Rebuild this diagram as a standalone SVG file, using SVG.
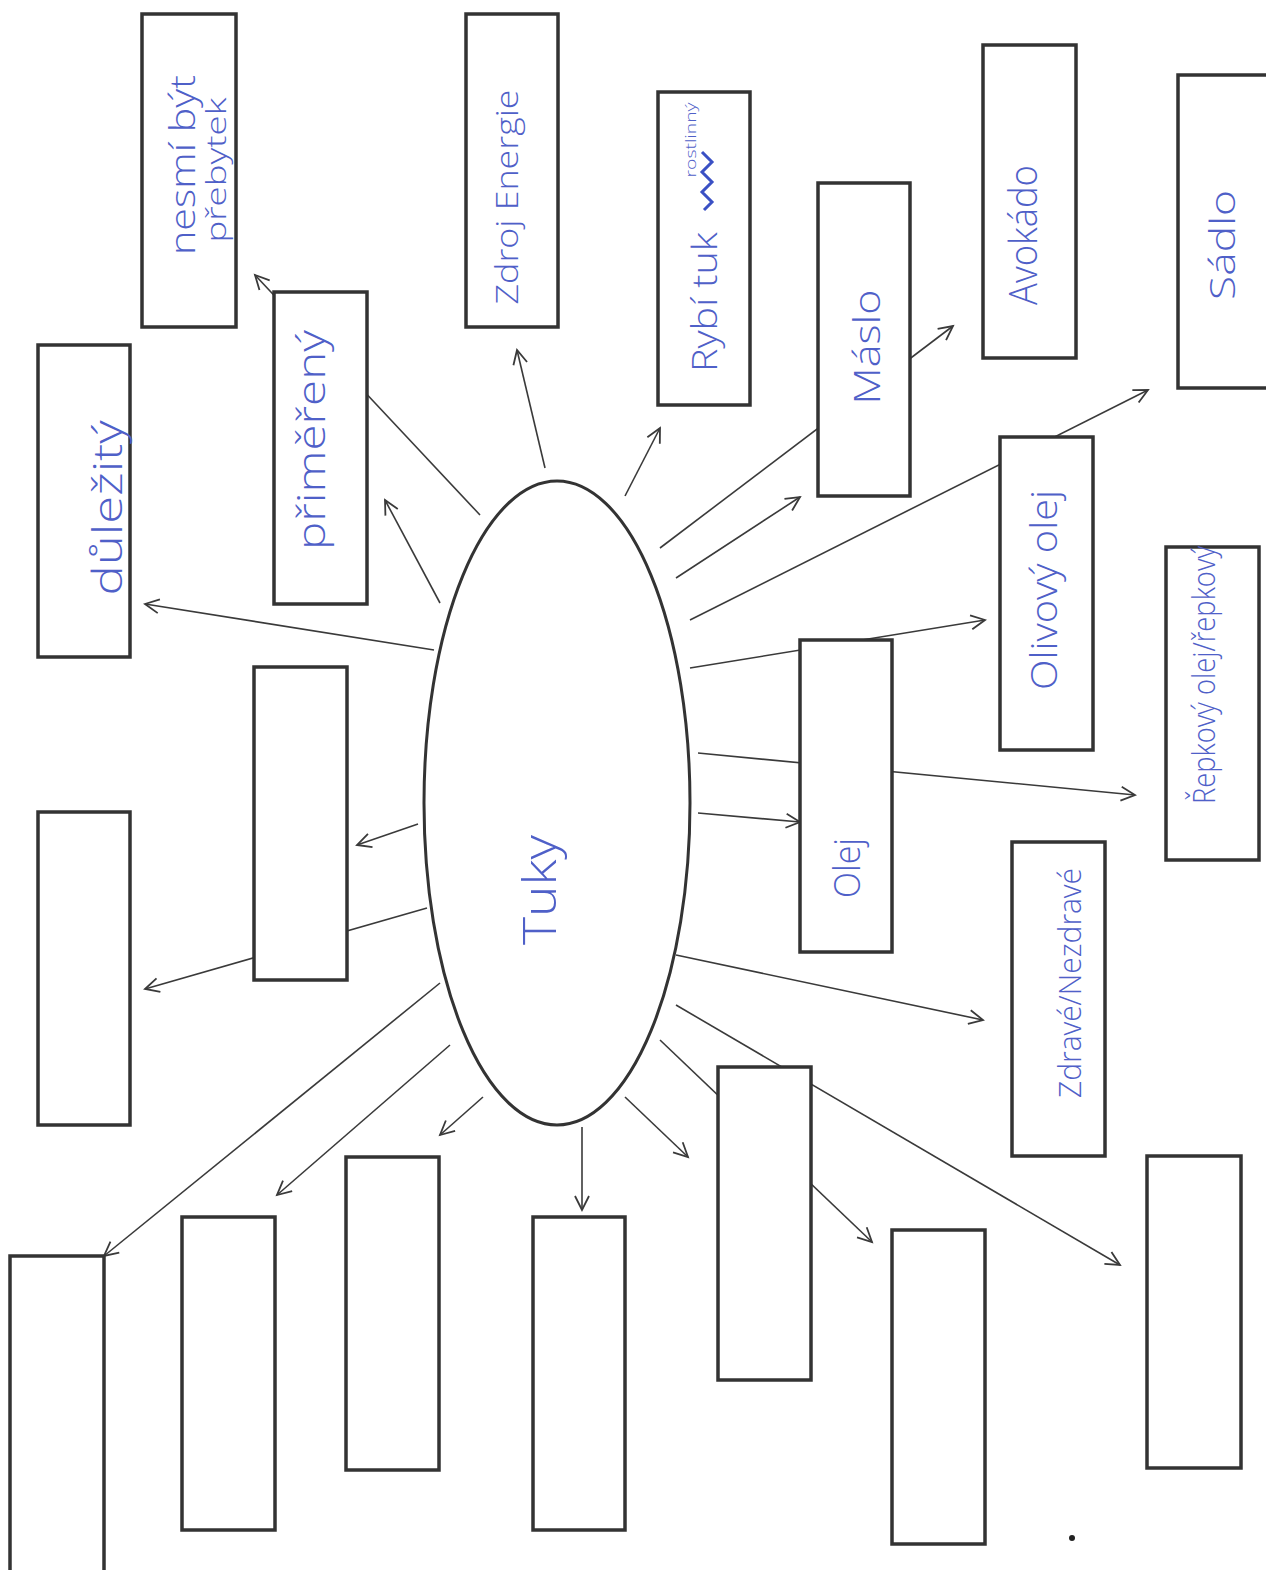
<svg xmlns="http://www.w3.org/2000/svg" width="1266" height="1570" viewBox="0 0 1266 1570">
<style>
.box{fill:#fff;stroke:#333;stroke-width:3.5}
.ell{fill:#fff;stroke:#333;stroke-width:3}
.con line{stroke:#3a3a3a;stroke-width:1.6;fill:none}
.arr{marker-end:url(#ah)}
.t{font-family:"Open Sans","DejaVu Sans",sans-serif;font-weight:300;fill:#4f60c8;text-anchor:middle;dominant-baseline:central}
</style>
<defs>
<marker id="ah" markerUnits="userSpaceOnUse" markerWidth="20" markerHeight="20" refX="16" refY="8" orient="auto" viewBox="0 0 20 16">
<path d="M2,1 L16,8 L2,15" fill="none" stroke="#3a3a3a" stroke-width="1.8"/>
</marker>
</defs>
<rect width="1266" height="1570" fill="#fff"/>
<g id="connectors" class="con">
<line class="arr" x1="545" y1="468" x2="517" y2="350"/>
<line class="arr" x1="625" y1="496" x2="660" y2="428"/>
<line class="arr" x1="660" y1="548" x2="953" y2="326"/>
<line class="arr" x1="676" y1="578" x2="800" y2="497"/>
<line class="arr" x1="690" y1="620" x2="1148" y2="390"/>
<line class="arr" x1="690" y1="668" x2="985" y2="620"/>
<line class="arr" x1="698" y1="753" x2="1135" y2="795"/>
<line class="arr" x1="698" y1="813" x2="800" y2="822"/>
<line class="arr" x1="676" y1="955" x2="983" y2="1020"/>
<line class="arr" x1="676" y1="1005" x2="1120" y2="1265"/>
<line class="arr" x1="660" y1="1040" x2="872" y2="1242"/>
<line class="arr" x1="625" y1="1097" x2="688" y2="1157"/>
<line class="arr" x1="582" y1="1127" x2="582" y2="1210"/>
<line class="arr" x1="483" y1="1097" x2="440" y2="1135"/>
<line class="arr" x1="450" y1="1045" x2="277" y2="1195"/>
<line class="arr" x1="440" y1="983" x2="104" y2="1256"/>
<line class="arr" x1="427" y1="908" x2="145" y2="989"/>
<line class="arr" x1="418" y1="824" x2="357" y2="845"/>
<line class="arr" x1="434" y1="650" x2="145" y2="604"/>
<line class="arr" x1="440" y1="603" x2="385" y2="500"/>
<line class="arr" x1="480" y1="515" x2="255" y2="275"/>
</g>
<g id="n-tuky"><ellipse class="ell" cx="557" cy="803" rx="133" ry="322"/><text class="t" transform="translate(538,890) rotate(-90)" font-size="46" textLength="110" lengthAdjust="spacingAndGlyphs">Tuky</text></g>
<g id="n-nesmi"><rect class="box" x="142" y="14" width="94" height="313"/><text class="t" transform="translate(182,165) rotate(-90)" font-size="34" textLength="180" lengthAdjust="spacingAndGlyphs">nesmí být</text><text class="t" transform="translate(215,170) rotate(-90)" font-size="28" textLength="145" lengthAdjust="spacingAndGlyphs">přebytek</text></g>
<g id="n-zdroj"><rect class="box" x="466" y="14" width="92" height="313"/><text class="t" transform="translate(505,197) rotate(-90)" font-size="32" textLength="215" lengthAdjust="spacingAndGlyphs">Zdroj Energie</text></g>
<g id="n-rybi"><rect class="box" x="658" y="92" width="92" height="313"/><text class="t" transform="translate(704,302) rotate(-90)" font-size="34" textLength="140" lengthAdjust="spacingAndGlyphs">Rybí tuk</text><path d="M702,152 L712,162 L702,172 L712,182 L702,192 L712,202 L704,210" fill="none" stroke="#3a50c4" stroke-width="3"/><text class="t" transform="translate(690,140) rotate(-90)" font-size="14" textLength="75" lengthAdjust="spacingAndGlyphs">rostlinný</text></g>
<g id="n-maslo"><rect class="box" x="818" y="183" width="92" height="313"/><text class="t" transform="translate(866,347) rotate(-90)" font-size="36" textLength="115" lengthAdjust="spacingAndGlyphs">Máslo</text></g>
<g id="n-avokado"><rect class="box" x="983" y="45" width="93" height="313"/><text class="t" transform="translate(1022,235) rotate(-90)" font-size="38" textLength="140" lengthAdjust="spacingAndGlyphs">Avokádo</text></g>
<g id="n-sadlo"><rect class="box" x="1178" y="75" width="94" height="313"/><text class="t" transform="translate(1222,245) rotate(-90)" font-size="34" textLength="110" lengthAdjust="spacingAndGlyphs">Sádlo</text></g>
<g id="n-dulezity"><rect class="box" x="38" y="345" width="92" height="312"/><text class="t" transform="translate(106,508) rotate(-90)" font-size="40" textLength="175" lengthAdjust="spacingAndGlyphs">důležitý</text></g>
<g id="n-primereny"><rect class="box" x="274" y="292" width="93" height="312"/><text class="t" transform="translate(310,440) rotate(-90)" font-size="38" textLength="220" lengthAdjust="spacingAndGlyphs">přiměřený</text></g>
<g id="n-olivovy"><rect class="box" x="1000" y="437" width="93" height="313"/><text class="t" transform="translate(1043,590) rotate(-90)" font-size="36" textLength="200" lengthAdjust="spacingAndGlyphs">Olivový olej</text></g>
<g id="n-repkovy"><rect class="box" x="1166" y="547" width="93" height="313"/><text class="t" transform="translate(1202,675) rotate(-90)" font-size="32" textLength="258" lengthAdjust="spacingAndGlyphs">Řepkový olej/řepkový</text></g>
<g id="n-k"><rect class="box" x="254" y="667" width="93" height="313"/></g>
<g id="n-l"><rect class="box" x="38" y="812" width="92" height="313"/></g>
<g id="n-olej"><rect class="box" x="800" y="640" width="92" height="312"/><text class="t" transform="translate(846,868) rotate(-90)" font-size="36" textLength="60" lengthAdjust="spacingAndGlyphs">Olej</text></g>
<g id="n-zdrave"><rect class="box" x="1012" y="842" width="93" height="314"/><text class="t" transform="translate(1068,983) rotate(-90)" font-size="32" textLength="230" lengthAdjust="spacingAndGlyphs">Zdravé/Nezdravé</text></g>
<g id="n-o"><rect class="box" x="718" y="1067" width="93" height="313"/></g>
<g id="n-p"><rect class="box" x="1147" y="1156" width="94" height="312"/></g>
<g id="n-q"><rect class="box" x="346" y="1157" width="93" height="313"/></g>
<g id="n-r"><rect class="box" x="533" y="1217" width="92" height="313"/></g>
<g id="n-s"><rect class="box" x="182" y="1217" width="93" height="313"/></g>
<g id="n-t"><rect class="box" x="10" y="1256" width="94" height="320"/></g>
<g id="n-u"><rect class="box" x="892" y="1230" width="93" height="314"/></g>
<circle cx="1072" cy="1538" r="3" fill="#222"/>
</svg>
